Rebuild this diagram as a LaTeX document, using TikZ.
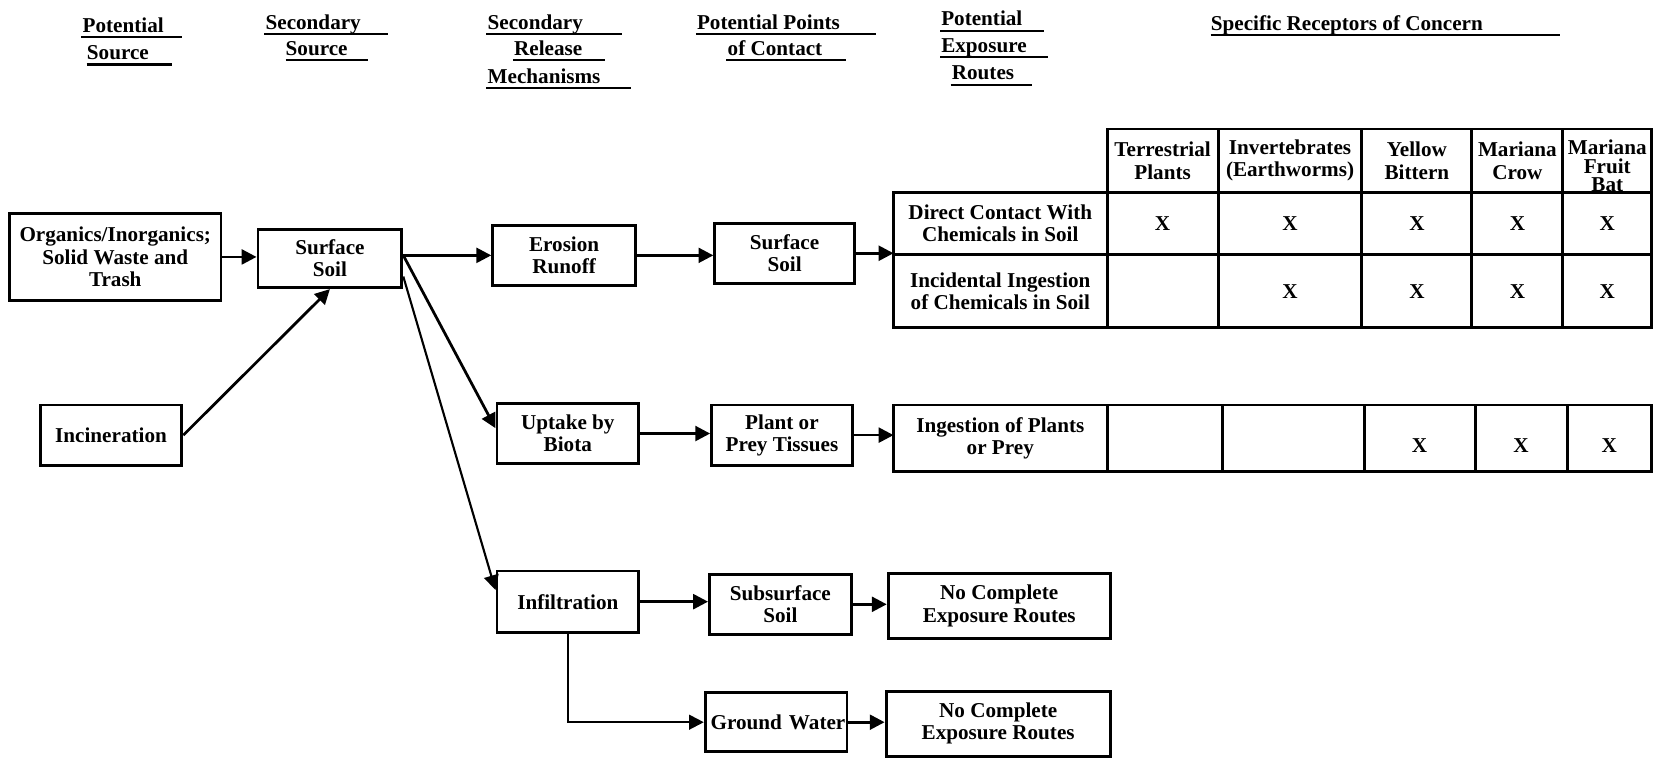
\documentclass[tikz,border=0pt]{standalone}
\usepackage{fontspec}
\setmainfont{Liberation Serif}
\usetikzlibrary{arrows.meta}
\newcommand\myCellFont{\bfseries\fontsize{20}{21}\selectfont}
\newcommand\myBoxFont{\bfseries\fontsize{20}{21}\selectfont}
\tikzset{
  box/.style={draw, line width=2.8pt, align=center, inner sep=0pt, font=\myBoxFont},
  cell/.style={draw, line width=2.8pt, align=center, inner sep=0pt, outer sep=0pt,
    anchor=north west, font=\myCellFont},
  xlow/.style={label={[font=\myCellFont, inner sep=0pt, yshift=-7pt]center:X}},
  arr/.style={line width=2.6pt, -{Triangle[length=14pt,width=14pt]}},
  hdr/.style={anchor=base west, inner sep=0pt, font=\myCellFont},
  uline/.style={line width=2pt},
}
\begin{document}
\begin{tikzpicture}[x=1pt,y=-1pt]
\useasboundingbox (0,0) rectangle (1568,719);
% ---------- column headers ----------
\node[hdr] (hA1) at (78,30.5) {Potential};        \draw[uline] (77,35) -- (172,35);
\node[hdr] (hA2) at (82,56.5) {Source};           \draw[uline] (82,61) -- (163,61);
\node[hdr] (hB1) at (251,27.5) {Secondary};       \draw[uline] (250,32) -- (367,32);
\node[hdr] (hB2) at (270,52.5) {Source};          \draw[uline] (270,57) -- (348,57);
\node[hdr] (hC1) at (461,27.5) {Secondary};       \draw[uline] (460,32) -- (588,32);
\node[hdr] (hC2) at (486,52.5) {Release};         \draw[uline] (485,57) -- (572,57);
\node[hdr] (hC3) at (461,78.5) {Mechanisms};      \draw[uline] (460,83) -- (597,83);
\node[hdr] (hD1) at (659,27.5) {Potential Points};\draw[uline] (658,32) -- (828,32);
\node[hdr] (hD2) at (688,52.5) {of Contact};      \draw[uline] (687,57) -- (800,57);
\node[hdr] (hE1) at (890,24.5) {Potential};       \draw[uline] (889,29) -- (987,29);
\node[hdr] (hE2) at (890,49.5) {Exposure};        \draw[uline] (889,54) -- (991,54);
\node[hdr] (hE3) at (900,75.5) {Routes};          \draw[uline] (899,80) -- (976,80);
\node[hdr] (hF1) at (1145,28.5) {Specific Receptors of Concern}; \draw[uline] (1145,33) -- (1475,33);
% ---------- boxes ----------
\node[box, minimum width=200pt, minimum height=82pt] (org) at (109,243) {Organics/Inorganics;\\Solid Waste and\\Trash};
\node[box, minimum width=136pt, minimum height=55pt] (ss1) at (312,244.5) {Surface\\Soil};
\node[box, minimum width=134pt, minimum height=57pt] (inc) at (105,411.5) {Incineration};
\node[box, minimum width=135pt, minimum height=57pt] (ero) at (533.5,241.5) {Erosion\\Runoff};
\node[box, minimum width=132pt, minimum height=57pt] (ss2) at (742,239.5) {Surface\\Soil};
\node[box, minimum width=134pt, minimum height=56pt] (upt) at (537,410) {Uptake by\\Biota};
\node[box, minimum width=133pt, minimum height=57pt] (ppt) at (739.5,411.5) {Plant or\\Prey Tissues};
\node[box, minimum width=134pt, minimum height=58pt] (inf) at (537,569) {Infiltration};
\node[box, minimum width=134pt, minimum height=57pt] (sub) at (738,571.5) {Subsurface\\Soil};
\node[box, minimum width=210pt, minimum height=62pt] (nc1) at (945,573) {No Complete\\Exposure Routes};
\node[box, text width=124pt, inner xsep=5pt, align=left, minimum height=56pt] (gw) at (734,683) {\mbox{Ground Water}};
\node[box, minimum width=212pt, minimum height=61pt] (nc2) at (944,684.5) {No Complete\\Exposure Routes};
% ---------- table 1 ----------
\node[cell, minimum width=105pt, minimum height=60pt] (c11) at (1047,122) {Terrestrial\\Plants};
\node[cell, minimum width=136pt, minimum height=60pt] (c12) at (1152,122) {Invertebrates\\(Earthworms)};
\node[cell, minimum width=104pt, minimum height=60pt] (c13) at (1288,122) {Yellow\\Bittern};
\node[cell, minimum width=86pt,  minimum height=60pt] (c14) at (1392,122) {Mariana\\Crow};
\node[cell, minimum width=84pt,  minimum height=60pt,
  label={[font=\bfseries\fontsize{20}{17.5}\selectfont, align=center, inner sep=0pt, yshift=-5pt]center:Mariana\\Fruit\\Bat}] (c15) at (1478,122) {};
\node[cell, minimum width=202pt, minimum height=59pt] (r1) at (845,182) {Direct Contact With\\Chemicals in Soil};
\node[cell, minimum width=105pt, minimum height=59pt] (r1a) at (1047,182) {X};
\node[cell, minimum width=136pt, minimum height=59pt] (r1b) at (1152,182) {X};
\node[cell, minimum width=104pt, minimum height=59pt] (r1c) at (1288,182) {X};
\node[cell, minimum width=86pt,  minimum height=59pt] (r1d) at (1392,182) {X};
\node[cell, minimum width=84pt,  minimum height=59pt] (r1e) at (1478,182) {X};
\node[cell, minimum width=202pt, minimum height=69pt] (r2) at (845,241) {Incidental Ingestion\\of Chemicals in Soil};
\node[cell, minimum width=105pt, minimum height=69pt] (r2a) at (1047,241) {};
\node[cell, minimum width=136pt, minimum height=69pt] (r2b) at (1152,241) {X};
\node[cell, minimum width=104pt, minimum height=69pt] (r2c) at (1288,241) {X};
\node[cell, minimum width=86pt,  minimum height=69pt] (r2d) at (1392,241) {X};
\node[cell, minimum width=84pt,  minimum height=69pt] (r2e) at (1478,241) {X};
% ---------- table 2 ----------
\node[cell, minimum width=202pt, minimum height=63pt] (t2l) at (845,383) {Ingestion of Plants\\or Prey};
\node[cell, minimum width=109pt, minimum height=63pt] (t2a) at (1047,383) {};
\node[cell, minimum width=134pt, minimum height=63pt] (t2b) at (1156,383) {};
\node[cell, minimum width=105pt, minimum height=63pt, xlow] (t2c) at (1290,383) {};
\node[cell, minimum width=87pt,  minimum height=63pt, xlow] (t2d) at (1395,383) {};
\node[cell, minimum width=80pt,  minimum height=63pt, xlow] (t2e) at (1482,383) {};
% ---------- connectors ----------
\draw[arr] (org.east) -- (org.east -| ss1.west);
\draw[arr] (inc.east) -- (ss1.south);
\draw[arr] (ero.west -| ss1.east) -- (ero.west);
\draw[arr] ([yshift=3pt]ss1.east) -- ([yshift=5pt]upt.west);
\draw[arr, line width=2pt] ([yshift=-17pt]ss1.east) -- ([yshift=11pt]inf.west);
\draw[arr] (ero.east) -- (ero.east -| ss2.west);
\draw[arr] (ss2.east) -- (ss2.east -| r1.west);
\draw[arr] (upt.east) -- (upt.east -| ppt.west);
\draw[arr] (ppt.east) -- (ppt.east -| t2l.west);
\draw[arr] (inf.east) -- (inf.east -| sub.west);
\draw[arr] (sub.east) -- (sub.east -| nc1.west);
\draw[arr, line width=2pt] (inf.south) |- (gw.west);
\draw[arr] (gw.east) -- (gw.east -| nc2.west);
\end{tikzpicture}
\end{document}
